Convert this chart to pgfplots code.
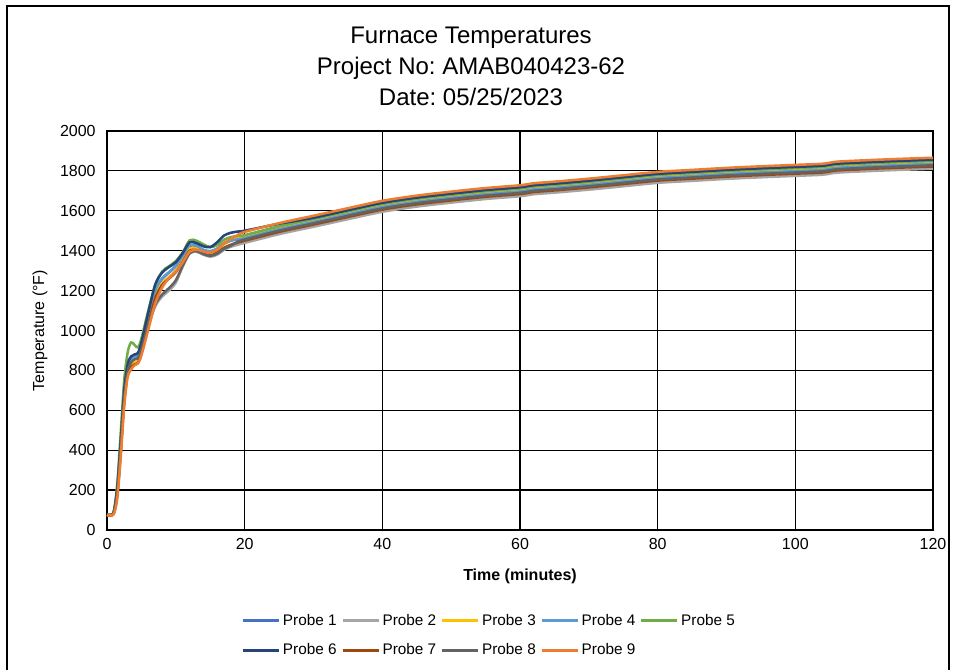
\documentclass[border=0pt]{standalone}
\usepackage{fontspec}
\setmainfont{Liberation Sans}
\usepackage{pgfplots}
\pgfplotsset{compat=1.18}
\usepackage{pgfplotstable}
\frenchspacing

\definecolor{pA}{HTML}{4472C4}
\definecolor{pB}{HTML}{A5A5A5}
\definecolor{pC}{HTML}{FFC000}
\definecolor{pD}{HTML}{5B9BD5}
\definecolor{pE}{HTML}{70AD47}
\definecolor{pF}{HTML}{264478}
\definecolor{pG}{HTML}{9E480E}
\definecolor{pH}{HTML}{636363}
\definecolor{pI}{HTML}{ED7D31}

% time (min) and nine probe readings (deg F)
\pgfplotstableread{
t    p1   p2   p3   p4   p5   p6   p7   p8   p9
0    75   76   75   75   76   75   75   75   74
0.5  75   76   75   75   76   75   75   75   74
1    90   88   88   90   95   92   86   88   80
1.5  200  190  185  200  235  215  180  190  160
2    430  410  400  430  490  450  390  410  370
2.5  680  660  650  680  750  700  640  660  620
3    800  795  790  805  890  830  785  795  765
3.5  850  845  830  855  940  870  815  840  805
4    865  860  840  870  928  880  830  855  825
4.5  870  868  845  875  915  888  838  862  835
5    920  900  890  925  960  940  885  905  875
6    1060 1020 1040 1065 1100 1090 1030 1030 1005
7    1200 1120 1170 1200 1225 1230 1160 1130 1135
8    1258 1170 1235 1262 1295 1290 1228 1180 1215
9    1290 1200 1268 1292 1322 1318 1260 1212 1262
10   1322 1240 1300 1325 1348 1342 1292 1252 1295
11   1372 1320 1352 1375 1392 1388 1345 1325 1342
12   1425 1385 1410 1428 1452 1442 1400 1388 1395
13   1422 1395 1412 1425 1450 1438 1402 1398 1405
14   1402 1380 1398 1405 1432 1422 1386 1383 1396
15   1396 1370 1390 1398 1418 1418 1376 1374 1390
16   1410 1380 1402 1410 1428 1442 1390 1385 1405
17   1438 1404 1432 1436 1455 1476 1414 1410 1436
18   1452 1420 1450 1450 1468 1490 1430 1425 1460
19   1460 1430 1462 1457 1474 1496 1441 1446 1478
20   1468 1439 1472 1463 1478 1500 1450 1456 1494
25   1512 1483 1516 1507 1522 1535 1494 1500 1538
30   1549 1520 1553 1544 1559 1565 1531 1537 1575
35   1587 1558 1591 1582 1597 1603 1569 1575 1613
40   1624 1595 1628 1619 1634 1640 1606 1612 1650
45   1650 1621 1654 1645 1660 1666 1632 1638 1676
50   1670 1641 1674 1665 1680 1686 1652 1658 1696
55   1688 1659 1692 1683 1698 1704 1670 1676 1714
60   1702 1673 1706 1697 1712 1718 1684 1690 1728
62   1712 1683 1716 1707 1722 1728 1694 1700 1738
65   1720 1691 1724 1715 1730 1736 1702 1708 1746
70   1735 1706 1739 1730 1745 1751 1717 1723 1761
75   1752 1723 1756 1747 1762 1768 1734 1740 1778
80   1769 1740 1773 1764 1779 1785 1751 1757 1795
85   1779 1750 1783 1774 1789 1795 1761 1767 1805
90   1789 1760 1793 1784 1799 1805 1771 1777 1815
95   1797 1768 1801 1792 1807 1813 1779 1785 1823
100  1804 1775 1808 1799 1814 1820 1786 1792 1830
104  1810 1781 1814 1805 1820 1826 1792 1798 1836
106  1820 1791 1824 1815 1830 1836 1802 1808 1846
110  1827 1798 1831 1822 1837 1843 1809 1815 1853
115  1834 1805 1838 1829 1844 1850 1816 1822 1860
120  1840 1811 1844 1835 1850 1856 1822 1828 1866
}\furnace

\begin{document}
\begin{tikzpicture}
\path[use as bounding box] (-80.25pt,-105pt) rectangle (636.75pt,397.5pt);
\draw[black, line width=1pt] (-75pt,-106pt) -- (-75pt,393pt) -- (631.5pt,393pt) -- (631.5pt,-106pt);
\begin{axis}[
  scale only axis,
  width=619.5pt, height=299.25pt,
  xmin=0, xmax=120, ymin=0, ymax=2000,
  xtick={0,20,...,120}, ytick={0,200,...,2000},
  grid=major, grid style={black, line width=0.9pt},
  axis line style={black, line width=0.9pt},
  major tick length=0pt,
  tick label style={font=\fontsize{12}{14}\selectfont},
  /pgf/number format/assume math mode=true,
  /pgf/number format/1000 sep={},
  xticklabel style={yshift=-3pt},
  yticklabel style={xshift=-5pt},
  xlabel={\textbf{Time (minutes)}},
  ylabel={Temperature (°F)},
  label style={font=\fontsize{12}{14}\selectfont},
  xlabel style={at={(0.5,-0.115)}, anchor=center},
  ylabel style={at={(-0.081,0.5)}, anchor=center},
  legend columns=5,
  legend style={draw=none, at={(0.4633,-0.203)}, anchor=north,
    font=\fontsize{11.5}{13}\selectfont,
    /tikz/every even column/.append style={column sep=1.5pt},
    row sep=8.5pt, inner sep=0pt},
  legend image code/.code={\draw[#1, line width=1.9pt] (0pt,0pt) -- (27pt,0pt);},
  every axis plot/.append style={line width=1.9pt, smooth, no marks},
]
\addplot[pA] table[x=t, y=p1] {\furnace}; \addlegendentry{Probe 1}
\addplot[pB] table[x=t, y=p2] {\furnace}; \addlegendentry{Probe 2}
\addplot[pC] table[x=t, y=p3] {\furnace}; \addlegendentry{Probe 3}
\addplot[pD] table[x=t, y=p4] {\furnace}; \addlegendentry{Probe 4}
\addplot[pE] table[x=t, y=p5] {\furnace}; \addlegendentry{Probe 5}
\addplot[pF] table[x=t, y=p6] {\furnace}; \addlegendentry{Probe 6}
\addplot[pG] table[x=t, y=p7] {\furnace}; \addlegendentry{Probe 7}
\addplot[pH] table[x=t, y=p8] {\furnace}; \addlegendentry{Probe 8}
\addplot[pI] table[x=t, y=p9] {\furnace}; \addlegendentry{Probe 9}
\end{axis}
\node[align=center, font=\fontsize{18}{23.25}\selectfont] at (273pt,348pt)
  {Furnace Temperatures\\Project No: AMAB040423-62\\Date: 05/25/2023};
\end{tikzpicture}
\end{document}
